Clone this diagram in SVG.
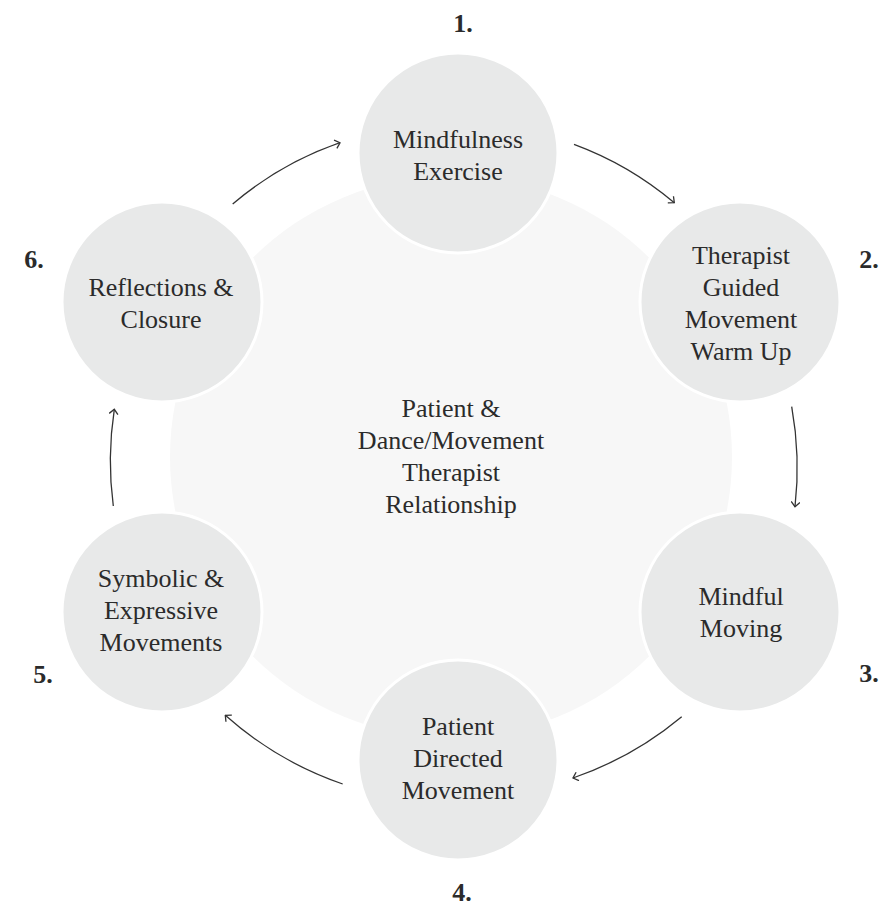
<svg xmlns="http://www.w3.org/2000/svg" width="880" height="906" viewBox="0 0 880 906">
<style>
.bg{fill:#ffffff}
.hub{fill:#f7f7f7}
.step{fill:#e8e9e9;stroke:#ffffff;stroke-width:3}
.lbl{font-family:"Liberation Serif","Times New Roman",serif;font-size:26px;fill:#2b2b2b;text-anchor:middle}
.num{font-family:"Liberation Serif","Times New Roman",serif;font-size:26px;font-weight:bold;fill:#2b2b2b;text-anchor:middle}
.arc{fill:none;stroke:#333333;stroke-width:1.3}
</style>
<defs>
<marker id="ah" viewBox="0 0 10 10" refX="9" refY="5" markerWidth="10" markerHeight="10" markerUnits="userSpaceOnUse" orient="auto">
<path d="M4.2,0.6 L9,5 L4.2,9.4" fill="none" stroke="#333333" stroke-width="1.3"/>
</marker>
</defs>
<rect class="bg" x="0" y="0" width="880" height="906"/>
<g id="hub">
<circle class="hub" cx="451" cy="457" r="281"/>
<text class="lbl" x="451" y="417">Patient &amp;</text>
<text class="lbl" x="451" y="449">Dance/Movement</text>
<text class="lbl" x="451" y="481">Therapist</text>
<text class="lbl" x="451" y="513">Relationship</text>
</g>
<g id="connectors">
<path class="arc" marker-end="url(#ah)" d="M232.7,204 A336,336 0 0,1 340,142.7"/>
<path class="arc" marker-end="url(#ah)" d="M574,144.3 A336,336 0 0,1 674.3,202.7"/>
<path class="arc" marker-end="url(#ah)" d="M791.7,406.7 A345,345 0 0,1 795,506.7"/>
<path class="arc" marker-end="url(#ah)" d="M681.7,716.7 A345,345 0 0,1 573,778"/>
<path class="arc" marker-end="url(#ah)" d="M342.7,784 A345,345 0 0,1 225.3,715.3"/>
<path class="arc" marker-end="url(#ah)" d="M113.3,506 A342,342 0 0,1 114.3,409.3"/>
</g>
<g id="step1">
<circle class="step" cx="458" cy="153" r="100"/>
<text class="lbl" x="458" y="148">Mindfulness</text>
<text class="lbl" x="458" y="180">Exercise</text>
<text class="num" x="463" y="32">1.</text>
</g>
<g id="step2">
<circle class="step" cx="740" cy="302" r="100"/>
<text class="lbl" x="741" y="264">Therapist</text>
<text class="lbl" x="741" y="296">Guided</text>
<text class="lbl" x="741" y="328">Movement</text>
<text class="lbl" x="741" y="360">Warm Up</text>
<text class="num" x="869" y="268">2.</text>
</g>
<g id="step3">
<circle class="step" cx="740" cy="612" r="100"/>
<text class="lbl" x="741" y="605">Mindful</text>
<text class="lbl" x="741" y="637">Moving</text>
<text class="num" x="869" y="682">3.</text>
</g>
<g id="step4">
<circle class="step" cx="458" cy="760" r="100"/>
<text class="lbl" x="458" y="735">Patient</text>
<text class="lbl" x="458" y="767">Directed</text>
<text class="lbl" x="458" y="799">Movement</text>
<text class="num" x="462" y="901">4.</text>
</g>
<g id="step5">
<circle class="step" cx="162" cy="612" r="100"/>
<text class="lbl" x="161" y="587">Symbolic &amp;</text>
<text class="lbl" x="161" y="619">Expressive</text>
<text class="lbl" x="161" y="651">Movements</text>
<text class="num" x="43" y="683">5.</text>
</g>
<g id="step6">
<circle class="step" cx="162" cy="302" r="100"/>
<text class="lbl" x="161" y="296">Reflections &amp;</text>
<text class="lbl" x="161" y="328">Closure</text>
<text class="num" x="34" y="268">6.</text>
</g>
</svg>
